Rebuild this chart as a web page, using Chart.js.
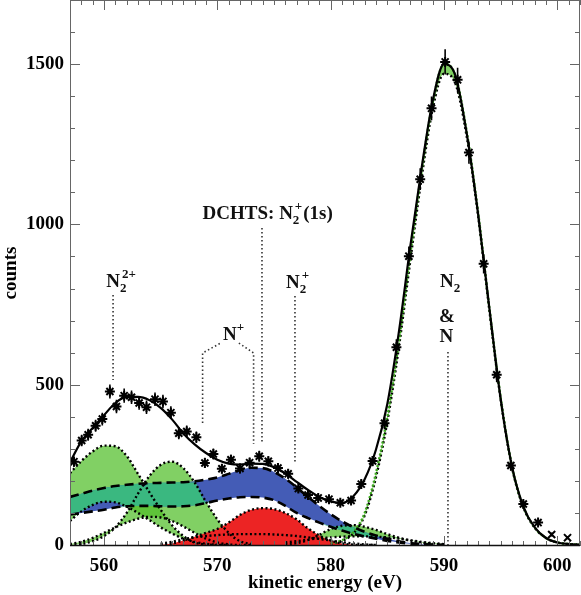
<!DOCTYPE html>
<html>
<head>
<meta charset="utf-8">
<script src="https://cdn.jsdelivr.net/npm/chart.js@4.4.1/dist/chart.umd.min.js"></script>
<style>
  html, body { margin: 0; padding: 0; background: #fff; }
  #wrap { width: 581px; height: 595px; position: relative; }
</style>
</head>
<body>
<div id="wrap"><canvas id="spectrum"></canvas></div>
<script>
// measured points (kinetic energy, counts, error)
var dataEnergy = [557.35, 558.03, 558.6, 559.26, 559.85, 560.52, 561.1, 561.78, 562.43, 563.1,
                  563.75, 564.5, 565.2, 565.9, 566.6, 567.3, 568.15, 568.9, 569.65, 570.4,
                  571.2, 572.0, 572.85, 573.7, 574.5, 575.35, 576.25, 577.15, 578.0, 578.9,
                  579.85, 580.85, 581.8, 582.7, 583.7, 584.75, 585.8, 586.9, 587.9, 588.9,
                  590.1, 591.2, 592.2, 593.5, 594.65, 595.9, 597.0, 598.3, 599.5, 600.9];
var dataCounts = [260, 326, 344, 372, 393, 479, 432, 466, 461, 443,
                  430, 455, 448, 413, 349, 354, 336, 256, 284, 238,
                  266, 239, 257, 277, 261, 240, 222, 176, 156, 147,
                  143, 132, 139, 190, 262, 380, 617, 901, 1141, 1362,
                  1507, 1451, 1224, 877, 531, 248, 128, 70, 33, 23];
var dataError = [16, 18, 19, 19, 20, 22, 21, 22, 21, 21,
                 21, 21, 21, 20, 19, 19, 18, 16, 17, 15,
                 16, 15, 16, 17, 16, 15, 15, 13, 12, 12,
                 12, 11, 12, 14, 16, 19, 25, 30, 34, 37,
                 39, 38, 35, 30, 23, 16, 11, 8, 6, 5];

// total fit
var fitEnergy = [557, 558, 559, 560, 561, 562, 563, 564, 565, 566, 567, 568, 569, 570, 571, 572,
                 573, 574, 575, 576, 577, 578, 579, 580, 581, 582, 583, 584, 585, 586, 587, 588,
                 589, 590, 591, 592, 593, 594, 595, 596, 597, 598, 599, 600, 601, 602];
var fitCounts = [258, 323, 365, 405, 443, 462, 462, 452, 428, 392, 348, 314, 287, 266, 254, 251,
                 254, 253, 243, 223, 197, 172, 150, 136, 131, 152, 205, 298, 440, 660, 925, 1170,
                 1385, 1500, 1465, 1285, 1035, 740, 455, 245, 120, 55, 22, 8, 3, 1];

// N2 2+ component (two bounds)
var band1Energy = [557, 558, 559, 560, 561, 562, 563, 564, 565, 566, 567, 568, 569, 570, 571];
var band1Upper = [224, 262, 292, 310, 308, 278, 222, 165, 110, 62, 28, 8, 2, 0, 0];
var band1Lower = [75, 105, 125, 135, 133, 120, 100, 78, 55, 36, 20, 10, 4, 1, 0];

// N+ component
var band2Energy = [557, 558, 559, 560, 561, 562, 563, 564, 565, 566, 567, 568, 569, 570, 571, 572, 573];
var band2Upper = [0, 3, 12, 28, 55, 100, 160, 215, 250, 260, 240, 195, 135, 80, 38, 12, 3];
var band2Lower = [3, 10, 22, 38, 55, 70, 82, 88, 86, 75, 58, 38, 20, 8, 2, 0, 0];

// DCHTS N2+(1s) component
var blueEnergy = [557, 558, 559, 560, 561, 562, 563, 564, 565, 566, 567, 568, 569, 570, 571, 572, 573,
                  574, 575, 576, 577, 578, 579, 580, 581, 582, 583, 584, 585, 586, 587, 588, 589, 590];
var blueUpper = [150, 160, 170, 178, 184, 188, 191, 193, 194, 195, 196, 199, 204, 211, 222, 234, 241,
                 240, 228, 207, 180, 150, 122, 96, 74, 56, 41, 30, 20, 12, 6, 3, 1, 0];
var blueLower = [95, 100, 105, 110, 117, 121, 122, 122, 121, 120, 121, 124, 131, 139, 145, 149, 150,
                 148, 140, 122, 100, 84, 70, 57, 45, 35, 27, 20, 13, 8, 4, 2, 1, 0];

// N+ (red) component
var redEnergy = [565, 566, 567, 568, 569, 570, 571, 572, 573, 574, 575, 576, 577, 578, 579, 580, 581, 582, 583, 584];
var redUpper = [1, 5, 14, 26, 38, 50, 70, 94, 110, 115, 112, 100, 80, 52, 30, 14, 5, 1, 0, 0];
var redLower = [4, 10, 18, 24, 28, 31, 33, 34, 34, 34, 33, 31, 28, 24, 19, 14, 9, 5, 2, 0];

// N2+ component
var band3Energy = [576, 577, 578, 579, 580, 581, 582, 583, 584, 585, 586, 587, 588, 589, 590];
var band3Upper = [2, 6, 15, 32, 50, 60, 62, 57, 47, 34, 23, 14, 8, 4, 1];
var band3Lower = [8, 12, 17, 21, 24, 26, 27, 27, 26, 24, 20, 15, 10, 6, 3];

// N2 & N main line
var n2Energy = [580, 581, 582, 583, 584, 585, 586, 587, 588, 589, 590, 591, 592, 593, 594, 595,
                596, 597, 598, 599, 600, 601, 602];
var n2Upper = [5, 15, 40, 100, 225, 400, 630, 900, 1160, 1380, 1500, 1465, 1290, 1040, 740, 460,
               245, 120, 55, 22, 8, 3, 1];
var n2Lower = [4, 13, 36, 92, 212, 385, 612, 880, 1140, 1360, 1470, 1440, 1275, 1030, 733, 455,
               242, 118, 54, 22, 8, 3, 1];

var xTickValues = [560, 570, 580, 590, 600];
var yTickValues = [0, 500, 1000, 1500];

var serif = '"Liberation Serif", "Times New Roman", serif';
var GREEN = 'rgba(80, 190, 40, 0.72)';
var BLUE = 'rgb(68, 92, 182)';
var TEAL = 'rgb(58, 184, 128)';
var RED = 'rgb(236, 36, 36)';

function pts(xs, ys) {
    return xs.map(function (x, i) { return { x: x, y: ys[i] }; });
}

function valueAt(xs, ys, e) {
    var i = xs.indexOf(e);
    return i < 0 ? 0 : ys[i];
}

// where a green band and the blue band overlap the colour is teal
function overlap(xs, up, lo) {
    var top = [], bot = [];
    xs.forEach(function (e, i) {
        var t = Math.min(Math.max(up[i], lo[i]), valueAt(blueEnergy, blueUpper, e));
        var b = Math.max(Math.min(up[i], lo[i]), valueAt(blueEnergy, blueLower, e));
        if (t < b) t = b;
        top.push(t);
        bot.push(b);
    });
    return [top, bot];
}

function dotted(xs, ys, extra) {
    var ds = {
        data: pts(xs, ys),
        borderColor: '#000',
        borderWidth: 2.4,
        borderDash: [2, 2.5],
        pointRadius: 0,
        fill: false,
        order: 10
    };
    for (var k in extra) ds[k] = extra[k];
    return ds;
}

function hidden(xs, ys, extra) {
    var ds = { data: pts(xs, ys), borderWidth: 0, borderColor: 'rgba(0,0,0,0)', pointRadius: 0, fill: false, order: 8 };
    for (var k in extra) ds[k] = extra[k];
    return ds;
}

var teal1 = overlap(band1Energy, band1Upper, band1Lower);
var teal2 = overlap(band2Energy, band2Upper, band2Lower);
var teal3 = overlap(band3Energy, band3Upper, band3Lower);

var datasets = [
    {
        data: pts(dataEnergy, dataCounts),
        showLine: false,
        pointStyle: dataEnergy.map(function (e) { return e > 599 ? 'crossRot' : 'star'; }),
        pointRadius: 5,
        borderColor: '#000',
        backgroundColor: '#000',
        pointBorderWidth: 2,
        order: 0
    },
    {
        data: pts(fitEnergy, fitCounts),
        borderColor: '#000',
        borderWidth: 2.2,
        pointRadius: 0,
        fill: false,
        order: 1
    },
    dotted(band1Energy, band1Upper, { fill: '+1', backgroundColor: GREEN }),
    dotted(band1Energy, band1Lower),
    dotted(band2Energy, band2Upper, { fill: '+1', backgroundColor: GREEN }),
    dotted(band2Energy, band2Lower),
    dotted(band3Energy, band3Upper, { fill: '+1', backgroundColor: GREEN }),
    dotted(band3Energy, band3Lower),
    dotted(n2Energy, n2Upper, { fill: '+1', backgroundColor: GREEN, borderColor: 'rgb(60, 170, 30)', borderDash: [2, 2] }),
    dotted(n2Energy, n2Lower),
    dotted(blueEnergy, blueUpper, { fill: '+1', backgroundColor: BLUE, borderDash: [9, 5], borderWidth: 2.6, order: 9 }),
    dotted(blueEnergy, blueLower, { borderDash: [9, 5], borderWidth: 2.6, order: 9 }),
    hidden(band1Energy, teal1[0], { fill: '+1', backgroundColor: TEAL }),
    hidden(band1Energy, teal1[1]),
    hidden(band2Energy, teal2[0], { fill: '+1', backgroundColor: TEAL }),
    hidden(band2Energy, teal2[1]),
    hidden(band3Energy, teal3[0], { fill: '+1', backgroundColor: TEAL }),
    hidden(band3Energy, teal3[1]),
    dotted(redEnergy, redUpper, { fill: 'origin', backgroundColor: RED, order: 7 }),
    dotted(redEnergy, redLower, { order: 7 })
];

var errorBars = {
    id: 'errorBars',
    afterDatasetsDraw: function (chart) {
        var ctx = chart.ctx, x = chart.scales.x, y = chart.scales.y;
        ctx.save();
        ctx.strokeStyle = '#000';
        ctx.lineWidth = 1.6;
        ctx.beginPath();
        dataEnergy.forEach(function (e, i) {
            var px = x.getPixelForValue(e);
            ctx.moveTo(px, y.getPixelForValue(dataCounts[i] - dataError[i]));
            ctx.lineTo(px, y.getPixelForValue(dataCounts[i] + dataError[i]));
        });
        ctx.stroke();
        ctx.restore();
    }
};

// labels N2 2+, N+, DCHTS ... with their dotted guide lines
function chem(ctx, x, y, parts) {
    parts.forEach(function (p) {
        if (p.t) {
            ctx.font = 'bold 19px ' + serif;
            ctx.fillText(p.t, x, y);
            x += ctx.measureText(p.t).width;
        } else {
            ctx.font = 'bold 13px ' + serif;
            var w = 0;
            if (p.sub) { ctx.fillText(p.sub, x, y + 5); w = ctx.measureText(p.sub).width; }
            if (p.sup) { ctx.fillText(p.sup, x + (p.sub ? 2 : 0), y - 9); w = Math.max(w, ctx.measureText(p.sup).width + (p.sub ? 2 : 0)); }
            x += w + 1;
        }
    });
}

var labels = {
    id: 'labels',
    afterDatasetsDraw: function (chart) {
        var ctx = chart.ctx, sx = chart.scales.x, sy = chart.scales.y;
        function X(v) { return sx.getPixelForValue(v); }
        function Y(v) { return sy.getPixelForValue(v); }
        function guide(points) {
            ctx.beginPath();
            ctx.moveTo(X(points[0][0]), Y(points[0][1]));
            for (var i = 1; i < points.length; i++) ctx.lineTo(X(points[i][0]), Y(points[i][1]));
            ctx.stroke();
        }
        ctx.save();
        ctx.strokeStyle = '#333';
        ctx.lineWidth = 1.6;
        ctx.setLineDash([1.5, 2.5]);
        guide([[560.8, 780], [560.8, 515]]);
        guide([[568.7, 381], [568.7, 599], [570.3, 630]]);
        guide([[571.9, 630], [573.2, 599], [573.2, 315]]);
        guide([[573.94, 989], [573.94, 315]]);
        guide([[576.85, 777], [576.85, 256]]);
        guide([[590.35, 602], [590.35, -3]]);
        ctx.restore();

        ctx.save();
        ctx.fillStyle = '#111';
        ctx.textBaseline = 'alphabetic';
        chem(ctx, X(560.2), Y(805), [{ t: 'N' }, { sub: '2', sup: '2+' }]);
        chem(ctx, X(570.5), Y(640), [{ t: 'N' }, { sup: '+' }]);
        chem(ctx, X(568.7), Y(1017), [{ t: 'DCHTS: N' }, { sub: '2', sup: '+' }, { t: '(1s)' }]);
        chem(ctx, X(576.06), Y(802), [{ t: 'N' }, { sub: '2', sup: '+' }]);
        chem(ctx, X(589.65), Y(805), [{ t: 'N' }, { sub: '2' }]);
        ctx.font = 'bold 19px ' + serif;
        ctx.textAlign = 'center';
        ctx.fillText('&', X(590.25), Y(696));
        ctx.fillText('N', X(590.2), Y(633));
        ctx.restore();
    }
};

// frame with inward ticks on all four sides
var frameTicks = {
    id: 'frameTicks',
    afterDraw: function (chart) {
        var a = chart.chartArea, ctx = chart.ctx, sx = chart.scales.x, sy = chart.scales.y;
        ctx.save();
        ctx.strokeStyle = '#666';
        ctx.lineWidth = 1;
        ctx.strokeRect(a.left + 0.5, a.top + 0.5, a.right - a.left - 1, a.bottom - a.top - 1);
        ctx.beginPath();
        for (var e = 557; e <= 602; e++) {
            var px = Math.round(sx.getPixelForValue(e)) + 0.5;
            var len = e % 10 === 0 ? 10 : 5;
            ctx.moveTo(px, a.bottom); ctx.lineTo(px, a.bottom - len);
            ctx.moveTo(px, a.top); ctx.lineTo(px, a.top + len);
        }
        for (var c = 0; c <= 1700; c += 100) {
            var py = Math.round(sy.getPixelForValue(c)) + 0.5;
            var l2 = c % 500 === 0 ? 10 : 5;
            ctx.moveTo(a.left, py); ctx.lineTo(a.left + l2, py);
            ctx.moveTo(a.right, py); ctx.lineTo(a.right - l2, py);
        }
        ctx.stroke();
        ctx.strokeStyle = '#111';
        ctx.lineWidth = 1.5;
        ctx.beginPath();
        ctx.moveTo(a.left, a.bottom - 0.5);
        ctx.lineTo(a.right, a.bottom - 0.5);
        ctx.stroke();
        ctx.restore();
    }
};

var tickFont = { family: serif, size: 19, weight: 'bold' };

new Chart(document.getElementById('spectrum'), {
    type: 'line',
    data: { datasets: datasets },
    options: {
        responsive: true,
        maintainAspectRatio: false,
        animation: false,
        layout: { autoPadding: false, padding: { top: 0, right: 1, bottom: 0, left: 0 } },
        elements: { line: { cubicInterpolationMode: 'monotone' } },
        plugins: {
            legend: { display: false },
            tooltip: { enabled: false },
            filler: { drawTime: 'beforeDatasetsDraw', propagate: false }
        },
        scales: {
            x: {
                type: 'linear',
                min: 557,
                max: 602,
                grid: { display: false, drawTicks: false },
                border: { display: false },
                afterBuildTicks: function (s) { s.ticks = xTickValues.map(function (v) { return { value: v }; }); },
                ticks: { font: tickFont, color: '#000', padding: 9, maxRotation: 0, autoSkip: false,
                         callback: function (v) { return String(v); } },
                title: { display: true, text: 'kinetic energy (eV)', font: tickFont, color: '#000', padding: { top: 0, bottom: 1 } },
                afterFit: function (s) { s.height = 49; s.paddingLeft = 0; s.paddingRight = 0; }
            },
            y: {
                min: -3,
                max: 1700,
                grid: { display: false, drawTicks: false },
                border: { display: false },
                afterBuildTicks: function (s) { s.ticks = yTickValues.map(function (v) { return { value: v }; }); },
                ticks: { font: tickFont, color: '#000', padding: 6, autoSkip: false,
                         callback: function (v) { return String(v); } },
                title: { display: true, text: 'counts', font: { family: serif, size: 19, weight: 'bold', lineHeight: 1 },
                         color: '#000', padding: { top: 2, bottom: 0 } },
                afterFit: function (s) { s.width = 70; s.paddingTop = 0; s.paddingBottom = 0; }
            }
        }
    },
    plugins: [errorBars, labels, frameTicks]
});
</script>
</body>
</html>
